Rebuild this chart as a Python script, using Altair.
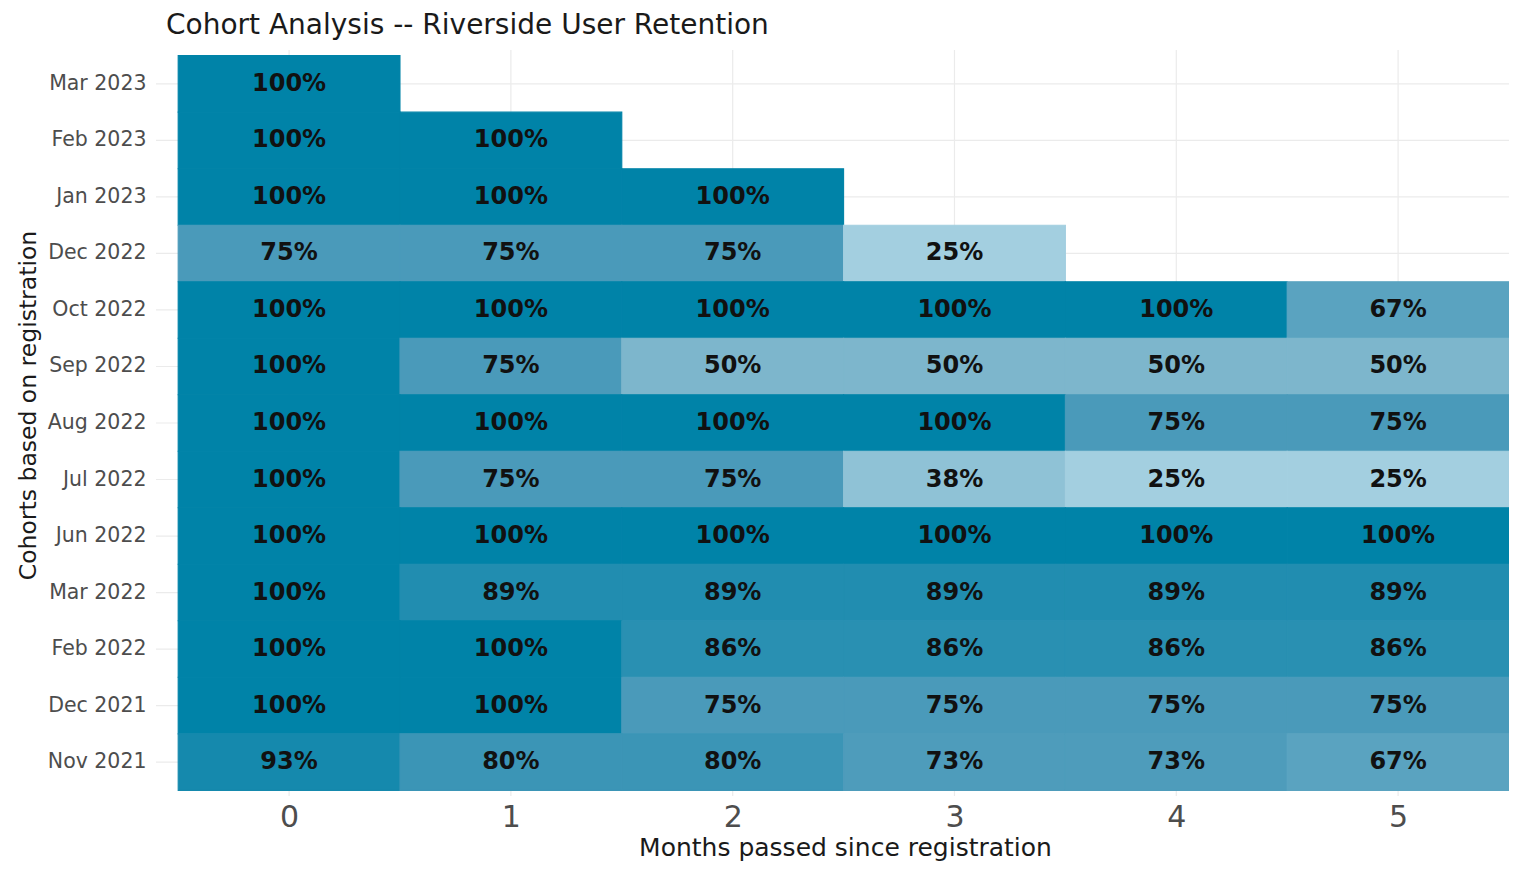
import altair as alt
import pandas as pd

cohorts = ["Mar 2023", "Feb 2023", "Jan 2023", "Dec 2022", "Oct 2022", "Sep 2022",
           "Aug 2022", "Jul 2022", "Jun 2022", "Mar 2022", "Feb 2022", "Dec 2021", "Nov 2021"]
retention = [
    [100],
    [100, 100],
    [100, 100, 100],
    [75, 75, 75, 25],
    [100, 100, 100, 100, 100, 67],
    [100, 75, 50, 50, 50, 50],
    [100, 100, 100, 100, 75, 75],
    [100, 75, 75, 38, 25, 25],
    [100, 100, 100, 100, 100, 100],
    [100, 89, 89, 89, 89, 89],
    [100, 100, 86, 86, 86, 86],
    [100, 100, 75, 75, 75, 75],
    [93, 80, 80, 73, 73, 67],
]
months = [0, 1, 2, 3, 4, 5]

rows = []
for c, vals in zip(cohorts, retention):
    for m, v in zip(months, vals):
        rows.append({"cohort": c, "month": m, "value": v, "label": f"{v}%"})
df = pd.DataFrame(rows)
df_months = pd.DataFrame({"month": months})
df_cohorts = pd.DataFrame({"cohort": cohorts})

FONT = "DejaVu Sans"
W, H = 1353, 746
GRID = "#EBEBEB"

x_scale = alt.Scale(domain=[-0.6, 5.5], nice=False, zero=False)
y_scale = alt.Scale(domain=cohorts, paddingInner=0, paddingOuter=0.1)
color_scale = alt.Scale(domain=[25, 50, 75, 100],
                        range=["#A3CFE0", "#7DB6CC", "#4A9ABA", "#0083A8"],
                        interpolate="rgb")

x_axis = alt.Axis(values=months, format="d", title="Months passed since registration",
                  grid=False, ticks=False, domain=False, labelFontSize=30,
                  labelColor="#4D4D4D", labelPadding=6, labelFont=FONT,
                  titleFont=FONT, titleFontSize=25, titleFontWeight="normal",
                  titleColor="#1A1A1A", titleX=689, titleY=59,
                  titleBaseline="alphabetic", titleAlign="center")
y_axis = alt.Axis(title="Cohorts based on registration", grid=False,
                  ticks=False, domain=False, labelFontSize=20.5, labelColor="#4D4D4D",
                  labelPadding=10, labelFont=FONT,
                  titleFont=FONT, titleFontSize=23.5, titleFontWeight="normal",
                  titleColor="#1A1A1A", titleAngle=-90, titleX=-128, titleY=355,
                  titleBaseline="middle", titleAlign="center")

vgrid = alt.Chart(df_months).mark_rule(color=GRID, strokeWidth=1.2).encode(
    x=alt.X("month:Q", scale=x_scale, axis=x_axis),
    y=alt.value(0), y2=alt.value(H),
)
hgrid = alt.Chart(df_cohorts).mark_rule(color=GRID, strokeWidth=1.2).encode(
    y=alt.Y("cohort:O", sort=cohorts, scale=y_scale, axis=y_axis),
    x=alt.value(0), x2=alt.value(W),
)

base = alt.Chart(df).transform_calculate(x0="datum.month - 0.5", x1="datum.month + 0.5")

rect = base.mark_rect(strokeWidth=1.1).encode(
    x=alt.X("x0:Q", scale=x_scale, axis=x_axis),
    x2="x1:Q",
    y=alt.Y("cohort:O", sort=cohorts, scale=y_scale, axis=y_axis),
    color=alt.Color("value:Q", legend=None, scale=color_scale),
    stroke=alt.Stroke("value:Q", legend=None, scale=color_scale),
)

text = base.mark_text(font=FONT, fontSize=24, fontWeight="bold", color="#111111",
                      baseline="middle", align="center").encode(
    x=alt.X("month:Q", scale=x_scale, axis=x_axis),
    y=alt.Y("cohort:O", sort=cohorts, scale=y_scale, axis=y_axis),
    text="label:N",
)

chart = alt.layer(vgrid, hgrid, rect, text).properties(
    width=W, height=H,
    autosize=alt.AutoSizeParams(type="none"),
    padding={"left": 148, "top": 42, "right": 0, "bottom": 65},
    title=alt.TitleParams(text="Cohort Analysis -- Riverside User Retention", anchor="start",
                          frame="group", font=FONT, fontSize=28, fontWeight="normal",
                          color="#1A1A1A", dx=10, dy=33, offset=20, baseline="alphabetic"),
).configure(font=FONT, view=alt.ViewConfig(stroke=None))

chart.save("out.html", embed_options={"renderer": "svg", "actions": False})
